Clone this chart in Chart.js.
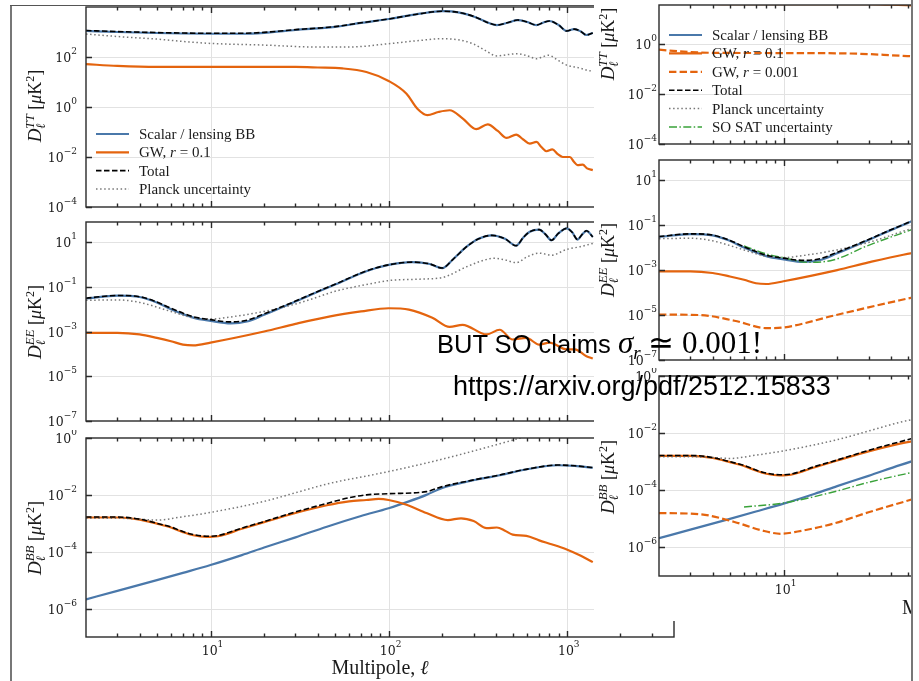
<!DOCTYPE html>
<html>
<head>
    <meta charset="utf-8"/>
    <title>CMB power spectra</title>
    <script src="https://cdn.jsdelivr.net/npm/chart.js@4.4.1/dist/chart.umd.min.js"></script>
    <style>
        body { margin: 0; background: #fff; width: 919px; height: 681px; overflow: hidden; position: relative; }
        canvas { position: absolute; }
        .line { position: absolute; background: #555; }
        .cover { position: absolute; left: 594px; top: 0; width: 325px; height: 621px; background: #fff; }
        .note { position: absolute; white-space: nowrap; color: #000; line-height: 30px;
                font-family: "Liberation Sans", Arial, sans-serif; }
        .m { font-family: "Liberation Serif", "Times New Roman", serif; font-size: 31px; }
        .m sub { font-size: 19px; font-style: italic; vertical-align: -6px; line-height: 0; }
    </style>
</head>
<body>
    <canvas id="leftTT"></canvas>
    <canvas id="leftEE"></canvas>
    <canvas id="leftBB"></canvas>
    <div class="cover"></div>
    <canvas id="rightTT"></canvas>
    <canvas id="rightEE"></canvas>
    <canvas id="rightBB"></canvas>
    <div class="line" style="left:10px; top:5px; width:1.5px; height:676px; background:#777;"></div>
    <div class="line" style="left:10px; top:5px; width:584px; height:1px;"></div>
    <div class="line" style="left:911px; top:0; width:1.5px; height:681px; background:#777;"></div>
    <div class="note" style="left:437px; top:328px; font-size:25.5px;">BUT SO claims <span class="m"><i>σ</i><sub>r</sub> ≃ 0.001!</span></div>
    <div class="note" style="left:453px; top:371px; font-size:27px;">https://arxiv.org/pdf/2512.15833</div>

    <script> // data (D_ell in muK^2)
        // TT
        const ttEll       = [2, 3, 5, 7, 10, 15, 20, 30, 50, 70, 100, 150, 200, 250, 300, 350, 405, 470, 530, 600, 676, 740, 800, 900, 1000, 1100, 1200, 1290, 1400];
        const ttScalar    = [1100, 1000, 910, 870, 850, 850, 930, 1200, 1600, 2300, 3300, 5400, 6800, 6000, 4200, 2600, 1900, 2400, 3000, 2500, 1900, 2400, 2750, 1900, 1100, 1300, 1050, 760, 910];
        const ttTotal     = [1150, 1040, 950, 910, 890, 890, 970, 1240, 1640, 2330, 3310, 5400, 6800, 6000, 4200, 2600, 1900, 2400, 3000, 2500, 1900, 2400, 2750, 1900, 1100, 1300, 1050, 760, 910];
        const ttPlanckEll = [2, 3, 5, 7, 10, 20, 40, 60, 100, 150, 200, 250, 300, 350, 405, 470, 530, 600, 676, 740, 790, 900, 1000, 1110, 1200, 1290, 1400];
        const ttPlanck    = [830, 660, 520, 420, 350, 300, 250, 250, 340, 460, 540, 480, 330, 180, 110, 126, 135, 112, 85, 105, 117, 71, 47, 40, 35, 30, 27];
        const ttGw1Ell    = [2, 3, 5, 10, 20, 30, 40, 55, 75, 100, 126, 145, 165, 190, 220, 260, 310, 360, 410, 460, 520, 570, 620, 676, 720, 770, 830, 890, 950, 1040, 1100, 1150, 1230, 1300, 1400];
        const ttGw1       = [52, 44, 40, 40, 40, 40, 38, 35, 25, 11, 3.4, 0.85, 0.47, 0.63, 0.74, 0.35, 0.13, 0.2, 0.11, 0.058, 0.079, 0.05, 0.034, 0.04, 0.025, 0.017, 0.02, 0.013, 0.01, 0.01, 0.0063, 0.0047, 0.005, 0.0035, 0.003];
        const ttGw3Ell    = [2, 3, 4, 10, 20, 30, 40, 55];
        const ttGw3       = [0.6, 0.48, 0.45, 0.44, 0.43, 0.4, 0.36, 0.32];

        // EE
        const eeEll       = [2, 3, 4, 5, 6, 8, 10, 13, 16, 20, 30, 40, 50, 75, 100, 136, 170, 200, 230, 274, 320, 380, 450, 520, 570, 620, 700, 760, 820, 900, 1000, 1070, 1150, 1220, 1290, 1400];
        const eeScalar    = [0.030, 0.040, 0.035, 0.020, 0.010, 0.0042, 0.0030, 0.0023, 0.0028, 0.0056, 0.022, 0.060, 0.126, 0.50, 0.95, 1.26, 1.05, 0.68, 1.7, 6.2, 14, 20, 14, 6.9, 16, 29, 36, 22, 12, 25, 41, 28, 13, 22, 32, 17];
        const eeTotal     = [0.031, 0.041, 0.036, 0.021, 0.011, 0.0046, 0.0034, 0.0027, 0.0032, 0.0062, 0.023, 0.062, 0.13, 0.51, 0.96, 1.27, 1.06, 0.69, 1.7, 6.2, 14, 20, 14, 6.9, 16, 29, 36, 22, 12, 25, 41, 28, 13, 22, 32, 17];
        const eePlanckEll = [2, 3, 4, 6, 8, 10, 13, 20, 30, 40, 50, 75, 100, 150, 200, 274, 330, 390, 450, 520, 600, 700, 820, 1000, 1200, 1400];
        const eePlanck    = [0.025, 0.026, 0.020, 0.0079, 0.0041, 0.0036, 0.0045, 0.0079, 0.017, 0.035, 0.063, 0.126, 0.19, 0.22, 0.26, 0.79, 1.4, 1.9, 1.6, 1.2, 2.2, 3.2, 2.6, 4.7, 6.3, 8.7];
        const eeGw1Ell    = [2, 3, 4, 5, 6, 7, 8, 10, 20, 30, 47, 70, 100, 130, 176, 220, 260, 355, 420, 497, 593, 700, 800, 1000, 1110, 1290, 1400];
        const eeGw1       = [8.7e-4, 8.7e-4, 7.4e-4, 5.2e-4, 3.7e-4, 2.6e-4, 2.4e-4, 3.2e-4, 1.0e-3, 2.2e-3, 4.8e-3, 7.9e-3, 0.011, 9.5e-3, 4.1e-3, 1.6e-3, 2.0e-3, 7.4e-4, 1.2e-3, 4.4e-4, 5.2e-4, 2.6e-4, 3.2e-4, 1.6e-4, 1.6e-4, 7.9e-5, 6.2e-5];
        const eeGw3Ell    = [2, 3.4, 5.3, 8.1, 10, 19, 30, 55];
        const eeGw3       = [1.05e-5, 1.0e-5, 5.6e-6, 2.6e-6, 2.8e-6, 9.3e-6, 2.2e-5, 6.5e-5];
        const eeSoEll     = [6, 8.1, 10, 13.6, 19, 29.5, 55];
        const eeSo        = [0.012, 0.0051, 0.0036, 0.0022, 0.0028, 0.012, 0.072];

        // BB
        const bbEll       = [2, 3, 4, 5, 6, 7, 8, 9.5, 11, 15, 20, 30, 45, 60, 75, 100, 163, 200, 274, 420, 590, 890, 1110, 1400];
        const bbTotal     = [1.66e-3, 1.66e-3, 1.4e-3, 1.0e-3, 7.4e-4, 5.1e-4, 4.0e-4, 3.5e-4, 3.7e-4, 6.8e-4, 1.15e-3, 2.5e-3, 5.0e-3, 7.9e-3, 0.010, 0.011, 0.013, 0.0195, 0.030, 0.050, 0.079, 0.112, 0.105, 0.091];
        const bbGw1Ell    = [2, 3, 4, 5, 6, 7, 8, 9.5, 11, 15, 20, 30, 45, 60, 75, 88, 100, 126, 163, 215, 255, 300, 355, 405, 450, 497, 593, 700, 830, 1000, 1200, 1400];
        const bbGw1       = [1.6e-3, 1.6e-3, 1.35e-3, 9.7e-4, 7.1e-4, 4.9e-4, 3.8e-4, 3.3e-4, 3.5e-4, 6.4e-4, 1.1e-3, 2.3e-3, 4.3e-3, 5.9e-3, 6.6e-3, 7.2e-3, 6.6e-3, 4.5e-3, 2.3e-3, 1.3e-3, 1.5e-3, 1.2e-3, 6.8e-4, 7.1e-4, 5.5e-4, 4.0e-4, 3.6e-4, 2.5e-4, 1.8e-4, 1.2e-4, 7.2e-5, 4.3e-5];
        const bbScalarEll = [2, 3, 5, 7, 10, 15, 20, 30, 45, 70, 100, 130, 163, 200, 274, 420, 590, 890, 1110, 1400];
        const bbScalar    = [2.1e-6, 4.2e-6, 1.0e-5, 1.8e-5, 3.4e-5, 7.6e-5, 1.4e-4, 3.2e-4, 7.6e-4, 1.8e-3, 3.4e-3, 5.9e-3, 0.010, 0.0175, 0.029, 0.049, 0.078, 0.11, 0.104, 0.09];
        const bbPlanckEll = [2, 3, 4, 5, 7, 10, 20, 31.6, 45, 100, 200, 500, 1000, 1400];
        const bbPlanck    = [1.5e-3, 1.5e-3, 1.4e-3, 1.3e-3, 1.7e-3, 2.4e-3, 5.9e-3, 0.013, 0.024, 0.066, 0.18, 0.85, 3.0, 5.0];
        const bbGw3Ell    = [2, 3.4, 5.3, 7.5, 9.7, 12, 19, 30, 55];
        const bbGw3       = [1.6e-5, 1.45e-5, 7.8e-6, 4.0e-6, 3.0e-6, 3.6e-6, 6.8e-6, 1.7e-5, 5.2e-5];
        const bbSoEll     = [6, 10, 19, 30, 55];
        const bbSo        = [2.6e-5, 3.6e-5, 8.7e-5, 1.9e-4, 4.5e-4];

        // ticks
        const xMajorTicks = [10, 100, 1000];
        const xMinorTicks = [3, 4, 5, 6, 7, 8, 9, 20, 30, 40, 50, 60, 70, 80, 90, 200, 300, 400, 500, 600, 700, 800, 900, 2000, 3000];
        const xTickLabels = [10, 100, 1000];
        const ttYTicks = [1e-4, 1e-2, 1e0, 1e2];
        const eeYTicks = [1e-7, 1e-5, 1e-3, 1e-1, 1e1];
        const bbYTicks = [1e-6, 1e-4, 1e-2, 1e0];
    </script>
    <script> // drawing
        const SERIF = '"Liberation Serif", "Times New Roman", serif';
        const TICKF = '"DejaVu Serif", serif';
        const ORANGE = '#e4640e';

        const STYLE = {
            scalar: { label: 'Scalar / lensing BB', borderColor: '#4a78aa', borderWidth: 2.2, order: 3 },
            gw1:    { label: 'GW, r = 0.1', borderColor: ORANGE, borderWidth: 2.2, order: 2 },
            gw3:    { label: 'GW, r = 0.001', borderColor: ORANGE, borderWidth: 2.2, borderDash: [7.4, 3.2], order: 2 },
            total:  { label: 'Total', borderColor: '#000', borderWidth: 1.6, borderDash: [5.5, 2.5], order: 0 },
            planck: { label: 'Planck uncertainty', borderColor: '#777', borderWidth: 1.5, borderDash: [1.5, 2.6], order: 1 },
            so:     { label: 'SO SAT uncertainty', borderColor: '#3aa23a', borderWidth: 1.4, borderDash: [8, 2.4, 1.5, 2.4], order: 1 },
        };

        function fnt(size, it) { return (it ? 'italic ' : '') + size + 'px ' + SERIF; }

        const LEGEND_TEXT = {
            scalar: [{ t: 'Scalar / lensing BB' }],
            gw1:    [{ t: 'GW, ' }, { t: 'r', it: true }, { t: ' = 0.1' }],
            gw3:    [{ t: 'GW, ' }, { t: 'r', it: true }, { t: ' = 0.001' }],
            total:  [{ t: 'Total' }],
            planck: [{ t: 'Planck uncertainty' }],
            so:     [{ t: 'SO SAT uncertainty' }],
        };

        function runsWidth(ctx, runs) {
            let w = 0;
            for (const r of runs) { ctx.font = r.f; if (!r.stack) w += ctx.measureText(r.t).width; }
            return w;
        }
        function drawRuns(ctx, runs, x, y) {
            for (const r of runs) {
                ctx.font = r.f;
                ctx.fillText(r.t, x, y + (r.dy || 0));
                if (!r.stack) x += ctx.measureText(r.t).width;
            }
        }
        function expRuns(v) {
            const e = Math.round(Math.log10(v));
            return [{ t: '10', f: '12.5px ' + TICKF }, { t: e < 0 ? '\u2212' + (-e) : String(e), f: '9px ' + TICKF, dy: -8 }];
        }
        function yTitleRuns(k) {
            return [
                { t: 'D', f: fnt(19, true) },
                { t: '\u2113', f: fnt(13, true), dy: 4, stack: true },
                { t: k, f: fnt(13, true), dy: -7.5 },
                { t: ' [', f: fnt(18) },
                { t: '\u03bc', f: fnt(18, true) },
                { t: 'K', f: fnt(18) },
                { t: '2', f: fnt(12), dy: -7.5 },
                { t: ']', f: fnt(18) },
            ];
        }

        const panels = {};

        const panelPlugin = {
            id: 'panel',
            beforeDatasetsDraw(chart) {
                const c = panels[chart.canvas.id];
                const { ctx, chartArea: a, scales: { x, y } } = chart;
                ctx.save();
                ctx.strokeStyle = '#e2e2e2';
                ctx.lineWidth = 1;
                ctx.beginPath();
                xMajorTicks.forEach(v => {
                    if (v <= x.min || v >= x.max) return;
                    const px = Math.round(x.getPixelForValue(v)) + 0.5;
                    ctx.moveTo(px, a.top); ctx.lineTo(px, a.bottom);
                });
                c.yTicks.forEach(v => {
                    if (v <= y.min * 1.01 || v >= y.max * 0.99) return;
                    const py = Math.round(y.getPixelForValue(v)) + 0.5;
                    ctx.moveTo(a.left, py); ctx.lineTo(a.right, py);
                });
                ctx.stroke();
                ctx.restore();
            },
            afterDraw(chart) {
                const c = panels[chart.canvas.id];
                const { ctx, chartArea: a, scales: { x, y } } = chart;
                const bx = c.box.x, by = c.box.y;
                ctx.save();
                // spines
                ctx.strokeStyle = '#2a2a2a';
                ctx.lineWidth = 1.4;
                ctx.strokeRect(a.left, a.top, a.right - a.left, a.bottom - a.top);
                // inward ticks
                ctx.beginPath();
                const xt = (v, len) => {
                    if (v <= x.min || v >= x.max) return;
                    const px = Math.round(x.getPixelForValue(v)) + 0.5;
                    ctx.moveTo(px, a.bottom); ctx.lineTo(px, a.bottom - len);
                    ctx.moveTo(px, a.top); ctx.lineTo(px, a.top + len);
                };
                xMinorTicks.forEach(v => xt(v, 3.5));
                xMajorTicks.forEach(v => xt(v, 6));
                c.yTicks.forEach(v => {
                    if (v < y.min * 0.99 || v > y.max * 1.01) return;
                    const py = Math.round(y.getPixelForValue(v)) + 0.5;
                    ctx.moveTo(a.left, py); ctx.lineTo(a.left + 6, py);
                });
                ctx.stroke();

                // y tick labels
                ctx.fillStyle = '#1a1a1a';
                ctx.textBaseline = 'alphabetic';
                c.yTicks.forEach(v => {
                    if (v < y.min * 0.99 || v > y.max * 1.01) return;
                    const py = y.getPixelForValue(v);
                    const runs = expRuns(v);
                    drawRuns(ctx, runs, a.left - c.labelPad - runsWidth(ctx, runs), py + 5);
                });
                // x tick labels
                (c.xLabels || []).forEach(v => {
                    const px = x.getPixelForValue(v);
                    const runs = expRuns(v);
                    drawRuns(ctx, runs, px - runsWidth(ctx, runs) / 2 + 2, a.bottom + 18);
                });
                // y title
                ctx.save();
                ctx.translate(c.yTitleX - bx, c.yTitleY - by);
                ctx.rotate(-Math.PI / 2);
                const tr = yTitleRuns(c.yTitle);
                drawRuns(ctx, tr, -runsWidth(ctx, tr) / 2, 0);
                ctx.restore();
                // x title
                if (c.xTitle) {
                    const runs = [{ t: 'Multipole, ', f: fnt(20) }, { t: '\u2113', f: fnt(20, true) }];
                    const w = runsWidth(ctx, runs);
                    const x0 = c.xTitle.align === 'center' ? c.xTitle.x - w / 2 : c.xTitle.x;
                    drawRuns(ctx, runs, x0 - bx, c.xTitle.y - by);
                }
                // legend
                if (c.legend) {
                    const L = c.legend;
                    L.items.forEach((key, i) => {
                        const s = STYLE[key];
                        const cy = L.y0 + i * L.dy - by;
                        ctx.strokeStyle = s.borderColor;
                        ctx.lineWidth = s.borderWidth;
                        ctx.setLineDash(s.borderDash || []);
                        ctx.beginPath();
                        ctx.moveTo(L.x - bx, cy); ctx.lineTo(L.x + L.len - bx, cy);
                        ctx.stroke();
                        ctx.setLineDash([]);
                        ctx.fillStyle = '#1a1a1a';
                        const runs = LEGEND_TEXT[key].map(r => ({ t: r.t, f: fnt(15, r.it) }));
                        drawRuns(ctx, runs, L.textX - bx, cy + 5);
                    });
                }
                ctx.restore();
            }
        };

        function series(ell, vals) { return ell.map((l, i) => ({ x: l, y: vals[i] })); }
        function ds(key, ell, vals) {
            return Object.assign({ data: series(ell, vals), pointRadius: 0, fill: false,
                cubicInterpolationMode: 'monotone', borderCapStyle: 'butt' }, STYLE[key]);
        }

        function makePanel(id, box, plot, xr, yr, datasets, cfg) {
            const cv = document.getElementById(id);
            cv.width = box.w; cv.height = box.h;
            cv.style.left = box.x + 'px'; cv.style.top = box.y + 'px';
            panels[id] = Object.assign({ box: box }, cfg);
            return new Chart(cv, {
                type: 'line',
                data: { datasets: datasets },
                options: {
                    responsive: false,
                    animation: false,
                    devicePixelRatio: 1,
                    layout: { padding: { left: plot.l - box.x, top: plot.t - box.y,
                                         right: box.x + box.w - plot.r, bottom: box.y + box.h - plot.b } },
                    plugins: { legend: { display: false }, tooltip: { enabled: false } },
                    scales: {
                        x: { type: 'logarithmic', min: xr[0], max: xr[1], display: false, bounds: 'data' },
                        y: { type: 'logarithmic', min: yr[0], max: yr[1], display: false, bounds: 'data' }
                    }
                },
                plugins: [panelPlugin]
            });
        }

        const leftX = [2, 4000];
        const rightX = [2, 52.6];

        makePanel('leftTT', { x: 12, y: 0, w: 680, h: 216 }, { l: 86, t: 7, r: 674, b: 207 }, leftX, [1e-4, 1e4], [
            ds('total', ttEll, ttTotal), ds('planck', ttPlanckEll, ttPlanck),
            ds('gw1', ttGw1Ell, ttGw1), ds('scalar', ttEll, ttScalar)
        ], { yTicks: ttYTicks, labelPad: 9, yTitle: 'TT', yTitleX: 41, yTitleY: 106,
             legend: { x: 96, len: 33, textX: 139, y0: 134, dy: 18.3, items: ['scalar', 'gw1', 'total', 'planck'] } });

        makePanel('leftEE', { x: 12, y: 214, w: 680, h: 216 }, { l: 86, t: 222, r: 674, b: 421 }, leftX, [1e-7, 79], [
            ds('total', eeEll, eeTotal), ds('planck', eePlanckEll, eePlanck),
            ds('gw1', eeGw1Ell, eeGw1), ds('scalar', eeEll, eeScalar)
        ], { yTicks: eeYTicks, labelPad: 9, yTitle: 'EE', yTitleX: 41, yTitleY: 322 });

        makePanel('leftBB', { x: 12, y: 430, w: 680, h: 251 }, { l: 86, t: 438, r: 674, b: 637 }, leftX, [1e-7, 1], [
            ds('total', bbEll, bbTotal), ds('planck', bbPlanckEll, bbPlanck),
            ds('gw1', bbGw1Ell, bbGw1), ds('scalar', bbScalarEll, bbScalar)
        ], { yTicks: bbYTicks, labelPad: 9, yTitle: 'BB', yTitleX: 41, yTitleY: 538,
             xLabels: xTickLabels, xTitle: { x: 380, y: 674, align: 'center' } });

        makePanel('rightTT', { x: 594, y: 0, w: 318, h: 152 }, { l: 659, t: 5, r: 912, b: 144 }, rightX, [1e-4, 37], [
            ds('total', ttEll, ttTotal), ds('planck', ttPlanckEll, ttPlanck),
            ds('gw1', ttGw1Ell, ttGw1), ds('gw3', ttGw3Ell, ttGw3), ds('scalar', ttEll, ttScalar)
        ], { yTicks: ttYTicks, labelPad: 2, yTitle: 'TT', yTitleX: 614, yTitleY: 44,
             legend: { x: 669, len: 33, textX: 712, y0: 35, dy: 18.4, items: ['scalar', 'gw1', 'gw3', 'total', 'planck', 'so'] } });

        makePanel('rightEE', { x: 594, y: 152, w: 318, h: 216 }, { l: 659, t: 160, r: 912, b: 360 }, rightX, [1e-7, 79], [
            ds('total', eeEll, eeTotal), ds('planck', eePlanckEll, eePlanck), ds('so', eeSoEll, eeSo),
            ds('gw1', eeGw1Ell, eeGw1), ds('gw3', eeGw3Ell, eeGw3), ds('scalar', eeEll, eeScalar)
        ], { yTicks: eeYTicks, labelPad: 2, yTitle: 'EE', yTitleX: 614, yTitleY: 260 });

        makePanel('rightBB', { x: 594, y: 368, w: 318, h: 253 }, { l: 659, t: 376, r: 912, b: 576 }, rightX, [1e-7, 1], [
            ds('total', bbEll, bbTotal), ds('planck', bbPlanckEll, bbPlanck), ds('so', bbSoEll, bbSo),
            ds('gw1', bbGw1Ell, bbGw1), ds('gw3', bbGw3Ell, bbGw3), ds('scalar', bbScalarEll, bbScalar)
        ], { yTicks: bbYTicks, labelPad: 2, yTitle: 'BB', yTitleX: 614, yTitleY: 477,
             xLabels: [10], xTitle: { x: 902, y: 614, align: 'left' } });
    </script>
</body>
</html>
